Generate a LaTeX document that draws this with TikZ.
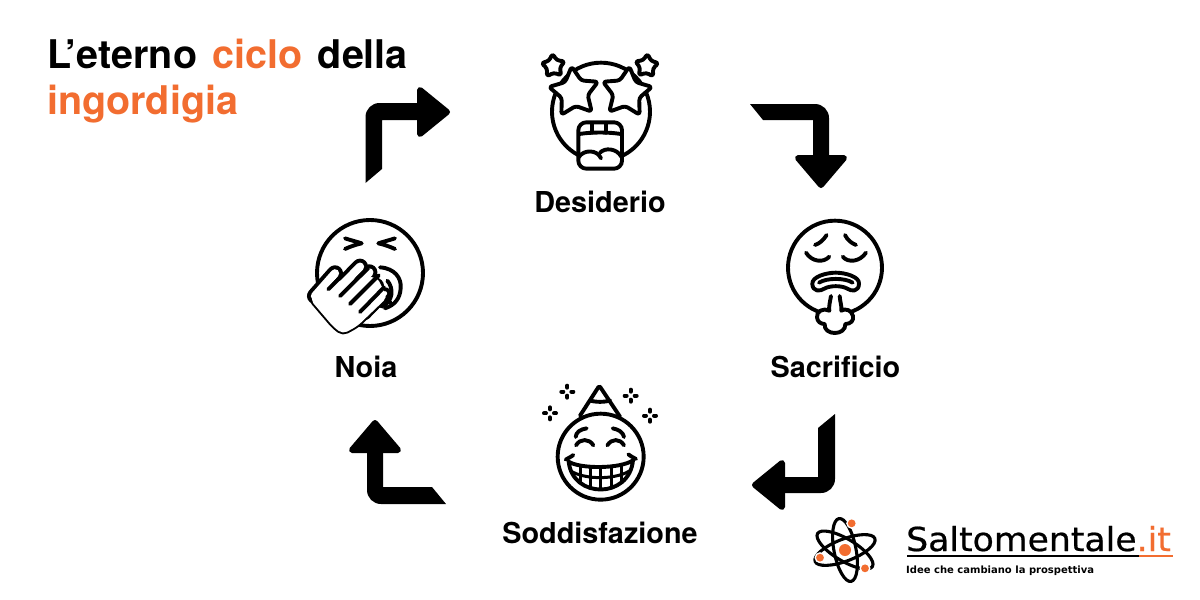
\documentclass[tikz,border=0pt]{standalone}
\usepackage{fontspec}
\setmainfont{TeX Gyre Heros}
\newfontfamily\titlefont[WordSpace=1.4]{TeX Gyre Heros}
\newfontfamily\logofont[FakeStretch=1.05,FakeBold=0.6]{DejaVu Sans}
\newfontfamily\tagfont{DejaVu Sans}
\usetikzlibrary{shapes.geometric}
\definecolor{accent}{HTML}{F26D30}
\tikzset{
  ink/.style={draw=black,line width=3.9pt,line cap=round,line join=round},
  inkfill/.style={ink,fill=white},
  blockarrow/.style={fill=black},
  arrowhead/.style={draw=black,fill=black,line width=6pt,line join=round},
  lab/.style={font=\bfseries\fontsize{28.8}{30}\selectfont,anchor=base,inner sep=0pt},
  titletext/.style={font=\titlefont\bfseries\fontsize{39.5}{42}\selectfont,anchor=base west,inner sep=0pt},
  starbox/.style={star,star points=5,star point ratio=1.9,draw=black,fill=white,line width=3.9pt,inner sep=0pt,rounded corners=3pt,line join=round},
  crop/.style={shift={#1},x=0.33333pt,y=-0.33333pt},
  dot/.style={fill=accent},
  orbit/.style={draw=black,line width=3.1pt},
}
\newcommand{\sparkle}[2]{%
  \foreach \dx/\dy in {-1/0,1/0,0/-1,0/1}
    \draw[line width=4pt,line cap=round] ({#1+\dx*12},{#2+\dy*12}) -- ({#1+\dx*18},{#2+\dy*18});
}
\begin{document}
\begin{tikzpicture}[x=1pt,y=-1pt]
\useasboundingbox (0,0) rectangle (1200,600);
\fill[white] (0,0) rectangle (1200,600);

% title
\node[titletext] (t1) at (47,68) {L’eterno \textcolor{accent}{ciclo} della};
\node[titletext,text=accent] (t2) at (47,114) {ingordigia};

% block arrows
\fill[blockarrow] (365.5,183) -- (365.5,120) [rounded corners=14pt] -- (365.5,103) [sharp corners] -- (425,103) -- (425,120) -- (382,120) -- (382,169) -- cycle;
\filldraw[arrowhead] (420,90) -- (447,112) -- (420,134) -- cycle;
\fill[blockarrow] (750,104) -- (812,104) [rounded corners=14pt] -- (829,104) [sharp corners] -- (829,163) -- (813,163) -- (813,120) -- (763,120) -- cycle;
\filldraw[arrowhead] (798,158) -- (821,185) -- (844,158) -- cycle;
\fill[blockarrow] (835,414) -- (835,476) [rounded corners=14pt] -- (835,493) [sharp corners] -- (777,493) -- (777,477) -- (818,477) -- (818,428) -- cycle;
\filldraw[arrowhead] (782,463) -- (755,485) -- (782,507) -- cycle;
\fill[blockarrow] (446,504) -- (384,504) [rounded corners=14pt] -- (367,504) [sharp corners] -- (367,445) -- (383,445) -- (383,487) -- (432,487) -- cycle;
\filldraw[arrowhead] (352,450) -- (375,423) -- (398,450) -- cycle;

% Desiderio
\begin{scope}[crop={(520,40)}]
  \draw[ink] (243,215) circle[radius=49pt];
  \node[starbox,minimum size=52pt,rotate=6] (s1) at (163,157) {};
  \node[starbox,minimum size=52pt,rotate=-6] (s2) at (320,157) {};
  \node[starbox,minimum size=25pt,rotate=4] (s3) at (100,78) {};
  \node[starbox,minimum size=25pt,rotate=-4] (s4) at (380,78) {};
  \draw[inkfill,rounded corners=8pt] (175,247) rectangle (306,386);
  \draw[ink] (178,282) .. controls (215,276) and (265,276) .. (303,282);
  \draw[ink] (215,250) -- (215,278) (257,250) -- (257,278);
  \draw[ink] (176,352) .. controls (190,328) and (232,328) .. (243,355);
  \draw[ink] (240,338) .. controls (255,322) and (290,325) .. (304,350);
\end{scope}
\node[lab] (desiderio) at (600,212) {Desiderio};

% Sacrificio
\begin{scope}[crop={(770,210)}]
  \draw[ink] (195,173) circle[radius=47pt];
  \draw[ink] (135,105) .. controls (150,100) and (160,90) .. (170,75);
  \draw[ink] (225,75) .. controls (232,90) and (245,100) .. (258,105);
  \draw[ink] (108,128) .. controls (125,155) and (160,160) .. (178,140);
  \draw[ink] (218,140) .. controls (235,160) and (270,155) .. (288,128);
  \draw[ink] (127,222) .. controls (125,200) and (170,188) .. (197,188) .. controls (225,188) and (270,200) .. (267,222)
     .. controls (266,245) and (245,245) .. (232,236) .. controls (215,226) and (180,226) .. (163,236) .. controls (150,245) and (128,245) .. (127,222) -- cycle;
  \draw[ink] (147,218) .. controls (170,203) and (225,203) .. (248,218);
  % breath cloud
  \draw[inkfill] (183,258) .. controls (180,275) and (176,290) .. (178,302)
     .. controls (160,292) and (138,305) .. (141,322)
     .. controls (142,335) and (152,342) .. (164,342)
     .. controls (160,378) and (228,378) .. (226,342)
     .. controls (242,342) and (252,332) .. (249,318)
     .. controls (245,300) and (226,294) .. (214,302)
     .. controls (216,290) and (210,275) .. (209,258);
\end{scope}
\node[lab] (sacrificio) at (835.5,377) {Sacrificio};

% Soddisfazione
\begin{scope}[crop={(530,375)}]
  \draw[ink] (212,245) circle[radius=43pt];
  \draw[ink,rounded corners=2pt] (150,122) -- (208,32) -- (270,125);
  \draw[ink] (180,76) .. controls (195,82) and (225,82) .. (240,76);
  \sparkle{112}{50}\sparkle{302}{62}\sparkle{60}{115}\sparkle{360}{122}
  \draw[ink] (170,160) .. controls (150,163) and (138,172) .. (137,186);
  \draw[ink] (248,160) .. controls (265,163) and (280,172) .. (282,186);
  \draw[ink] (138,211) .. controls (150,190) and (178,190) .. (190,211);
  \draw[ink] (232,211) .. controls (245,190) and (270,190) .. (282,211);
  \draw[ink] (116,260) .. controls (150,282) and (270,282) .. (309,256)
     .. controls (298,372) and (128,372) .. (116,260) -- cycle;
  \draw[ink] (107,254) .. controls (112,250) and (120,248) .. (130,240);
  \draw[ink] (318,252) .. controls (312,248) and (305,246) .. (295,238);
  \begin{scope}
    \clip (116,260) .. controls (150,282) and (270,282) .. (309,256) .. controls (298,372) and (128,372) .. (116,260) -- cycle;
    \draw[ink,line width=3pt] (118,285) .. controls (160,316) and (265,316) .. (307,282);
    \foreach \x in {152,181,212,244,275} \draw[ink,line width=3pt] (\x,260) -- (\x,350);
  \end{scope}
\end{scope}
\node[lab] (soddisfazione) at (600,543) {Soddisfazione};

% Noia
\begin{scope}[crop={(300,210)}]
  \draw[ink] (210,189) circle[radius=53pt];
  \draw[ink] (135,85) .. controls (150,90) and (170,95) .. (185,100) .. controls (170,103) and (150,110) .. (135,117);
  \draw[ink] (285,85) .. controls (270,90) and (250,95) .. (235,100) .. controls (250,103) and (270,110) .. (285,117);
  \draw[ink] (240,172) .. controls (285,175) and (305,205) .. (302,235) .. controls (300,265) and (285,285) .. (255,295);
  \draw[ink] (262,212) .. controls (282,235) and (280,275) .. (245,290);
  \draw[ink] (250,262) -- (272,278);
  % hand: black outline first, white inside after
  \draw[draw=black,line width=3.9pt,line join=round,rounded corners=5pt] (30,268) -- (100,350) -- (128,372) -- (172,348) -- (262,262) -- (230,200) -- (120,210) -- (60,240) -- cycle;
  \foreach \ax/\ay/\bx/\by/\w in {45/258/105/190/8.3,107/245/180/170/8.3,135/270/208/187/8.3,165/294/228/228/8.3,195/312/255/250/4.3}
    \draw[line cap=round,line width={\w pt+7.8pt},black] (\ax,\ay) -- (\bx,\by);
  \fill[white,rounded corners=5pt] (30,268) -- (100,350) -- (128,372) -- (172,348) -- (262,262) -- (230,200) -- (120,210) -- (60,240) -- cycle;
  \foreach \ax/\ay/\bx/\by/\w in {45/258/105/190/8.3,107/245/180/170/8.3,135/270/208/187/8.3,165/294/228/228/8.3,195/312/255/250/4.3}
    \draw[line cap=round,line width=\w pt,white] (\ax,\ay) -- (\bx,\by);
  \draw[ink] (85,238) -- (118,205);
  \draw[ink] (120,258) -- (205,174);
  \draw[ink] (150,282) -- (236,196);
  \draw[ink] (180,306) -- (252,232);
\end{scope}
\node[lab] (noia) at (366,377) {Noia};

% logo
\begin{scope}[crop={(805,510)}]
  \draw[orbit,shift={(120,120)},rotate=21] (0,0) ellipse[x radius=32pt,y radius=11pt];
  \draw[orbit,shift={(120,120)},rotate=-31] (0,0) ellipse[x radius=32pt,y radius=11pt];
  \draw[orbit,shift={(120,120)},rotate=101] (0,0) ellipse[x radius=32pt,y radius=11pt];
  \fill[white] (140,40) circle[radius=5.5pt] (45,143) circle[radius=5.5pt] (180,175) circle[radius=5.5pt];
  \fill[dot] (120,120) circle[radius=6pt];
  \fill[dot] (140,40) circle[radius=3.9pt] (45,143) circle[radius=3.9pt] (180,175) circle[radius=3.9pt];
\end{scope}
\node[anchor=base west,inner sep=0pt,font=\logofont\fontsize{33}{36}\selectfont] (logo) at (906,551) {Saltomentale\textcolor{accent}{.it}};
\draw[black,line width=2pt] (907,556) -- (1139,556);
\draw[accent,line width=2pt] (1139,556) -- (1173,556);
\node[anchor=base west,inner sep=0pt,font=\tagfont\bfseries\fontsize{10}{12}\selectfont] (tag) at (906,573) {Idee che cambiano la prospettiva};
\end{tikzpicture}
\end{document}
